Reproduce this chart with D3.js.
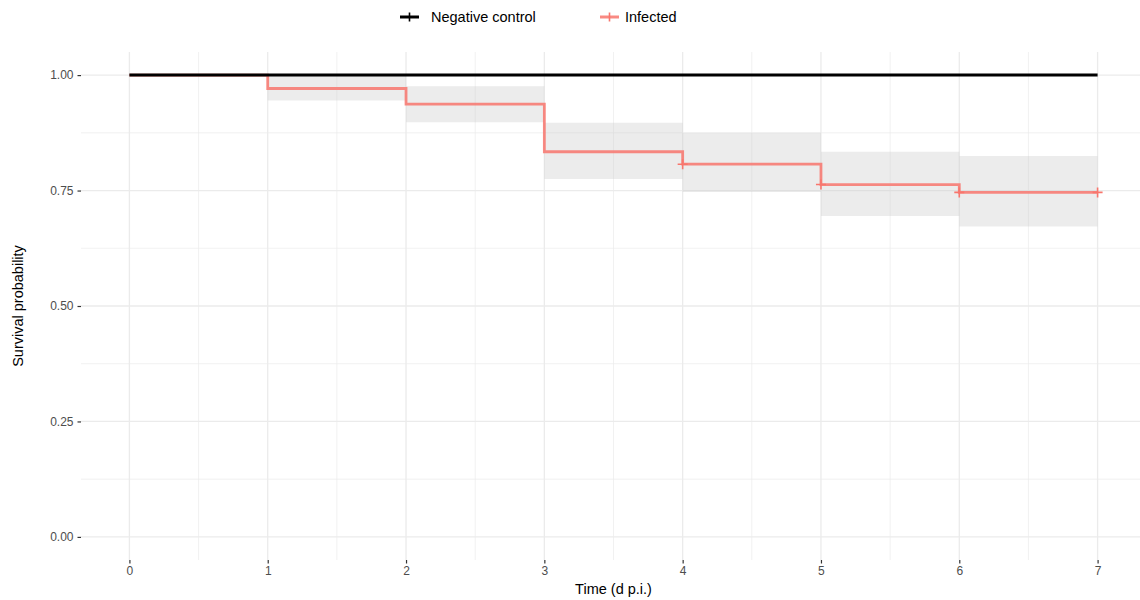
<!DOCTYPE html>
<html>
<head>
<meta charset="utf-8">
<script src="https://cdn.jsdelivr.net/npm/d3@7"></script>
<style>
  body { margin: 0; background: #fff; }
  svg { display: block; font-family: "Liberation Sans", Arial, sans-serif; }
</style>
</head>
<body>
<svg id="chart" width="1140" height="600"></svg>
<script>
// ---- data ----
const times = [0, 1, 2, 3, 4, 5, 6, 7];
const controlSurv = [1, 1, 1, 1, 1, 1, 1, 1];
const infectedSurv = [1.00, 0.971, 0.937, 0.834, 0.807, 0.763, 0.746, 0.746];
const infectedUpper = [1.00, 1.00, 0.976, 0.897, 0.875, 0.834, 0.825, 0.825];
const infectedLower = [1.00, 0.945, 0.898, 0.775, 0.747, 0.695, 0.672, 0.672];
const censorTimes = [4, 5, 6, 7];
const censorSurv = [0.807, 0.763, 0.746, 0.746];
const xTicks = [0, 1, 2, 3, 4, 5, 6, 7];
const yTicks = [0, 0.25, 0.5, 0.75, 1.0];
const seriesNames = ["Negative control", "Infected"];
const seriesColors = ["#000000", "#F8766D"];

const svg = d3.select("#chart");
const panel = { left: 81, right: 1146, top: 52, bottom: 560 };

const x = d3.scaleLinear().domain([0 - 0.35, 7 + 0.35]).range([panel.left, panel.right]);
const y = d3.scaleLinear().domain([0 - 0.05, 1 + 0.05]).range([panel.bottom, panel.top]);

svg.append("defs").append("clipPath").attr("id", "clip")
  .append("rect").attr("x", panel.left).attr("y", panel.top)
  .attr("width", panel.right - panel.left).attr("height", panel.bottom - panel.top);

const g = svg.append("g").attr("clip-path", "url(#clip)");

// minor grid
const xMinor = d3.range(0.5, 7, 1);
const yMinor = [0.125, 0.375, 0.625, 0.875];
g.selectAll(".xminor").data(xMinor).join("line")
  .attr("x1", d => x(d)).attr("x2", d => x(d))
  .attr("y1", panel.top).attr("y2", panel.bottom)
  .attr("stroke", "#ebebeb").attr("stroke-width", 0.7);
g.selectAll(".yminor").data(yMinor).join("line")
  .attr("y1", d => y(d)).attr("y2", d => y(d))
  .attr("x1", panel.left).attr("x2", panel.right)
  .attr("stroke", "#ebebeb").attr("stroke-width", 0.7);
// major grid
g.selectAll(".xmajor").data(xTicks).join("line")
  .attr("x1", d => x(d)).attr("x2", d => x(d))
  .attr("y1", panel.top).attr("y2", panel.bottom)
  .attr("stroke", "#ebebeb").attr("stroke-width", 1.3);
g.selectAll(".ymajor").data(yTicks).join("line")
  .attr("y1", d => y(d)).attr("y2", d => y(d))
  .attr("x1", panel.left).attr("x2", panel.right)
  .attr("stroke", "#ebebeb").attr("stroke-width", 1.3);

// CI ribbon (step)
const ribbonData = times.map((t, i) => ({ t, lo: infectedLower[i], hi: infectedUpper[i] }));
const area = d3.area()
  .x(d => x(d.t)).y0(d => y(d.lo)).y1(d => y(d.hi))
  .curve(d3.curveStepAfter);
g.append("path").datum(ribbonData)
  .attr("d", area)
  .attr("fill", "#c8c8c8").attr("fill-opacity", 0.35);

// step lines
const line = d3.line().x(d => x(d.t)).y(d => y(d.s)).curve(d3.curveStepAfter);
const infData = times.map((t, i) => ({ t, s: infectedSurv[i] }));
const ctlData = times.map((t, i) => ({ t, s: controlSurv[i] }));

g.append("path").datum(infData).attr("d", line)
  .attr("fill", "none").attr("stroke", seriesColors[1]).attr("stroke-width", 2.8)
  .attr("stroke-opacity", 0.85);

// censor marks
const plusSize = 5;
censorTimes.forEach((t, i) => {
  const cx = x(t), cy = y(censorSurv[i]);
  g.append("path")
    .attr("d", `M${cx - plusSize},${cy}H${cx + plusSize}M${cx},${cy - plusSize}V${cy + plusSize}`)
    .attr("stroke", seriesColors[1]).attr("stroke-width", 1.6).attr("fill", "none");
});

g.append("path").datum(ctlData).attr("d", line)
  .attr("fill", "none").attr("stroke", seriesColors[0]).attr("stroke-width", 3);

// axes
const xAxis = svg.append("g").attr("transform", `translate(0,${panel.bottom})`)
  .call(d3.axisBottom(x).tickValues(xTicks).tickSize(3.5).tickPadding(3).tickFormat(d3.format("d")));
xAxis.select(".domain").remove();
xAxis.selectAll(".tick line").attr("stroke", "#333").attr("stroke-width", 1.2);
xAxis.selectAll(".tick text").attr("fill", "#4d4d4d").style("font-size", "12px");

const yAxis = svg.append("g").attr("transform", `translate(${panel.left},0)`)
  .call(d3.axisLeft(y).tickValues(yTicks).tickSize(3.5).tickPadding(4).tickFormat(d3.format(".2f")));
yAxis.select(".domain").remove();
yAxis.selectAll(".tick line").attr("stroke", "#333").attr("stroke-width", 1.2);
yAxis.selectAll(".tick text").attr("fill", "#4d4d4d").style("font-size", "12px");

// axis titles
svg.append("text").attr("x", (panel.left + panel.right) / 2).attr("y", 594)
  .attr("text-anchor", "middle").style("font-size", "14.5px").attr("fill", "#000")
  .text("Time (d p.i.)");
svg.append("text").attr("transform", `translate(23,${(panel.top + panel.bottom) / 2}) rotate(-90)`)
  .attr("text-anchor", "middle").style("font-size", "14.5px").attr("fill", "#000")
  .text("Survival probability");

// legend
const legendKeyX = [400, 600];
const legendTextX = [431, 625];
const legend = svg.append("g");
seriesNames.forEach((name, i) => {
  const lx = legendKeyX[i], ly = 17;
  legend.append("line").attr("x1", lx).attr("x2", lx + 19).attr("y1", ly).attr("y2", ly)
    .attr("stroke", seriesColors[i]).attr("stroke-width", 3)
    .attr("stroke-opacity", i === 1 ? 0.85 : 1);
  legend.append("path")
    .attr("d", `M${lx + 9.5},${ly - 4.5}V${ly + 4.5}`)
    .attr("stroke", seriesColors[i]).attr("stroke-width", 1.6);
  legend.append("text").attr("x", legendTextX[i]).attr("y", ly + 5)
    .style("font-size", "14.5px").attr("fill", "#000").text(name);
});
</script>
</body>
</html>
